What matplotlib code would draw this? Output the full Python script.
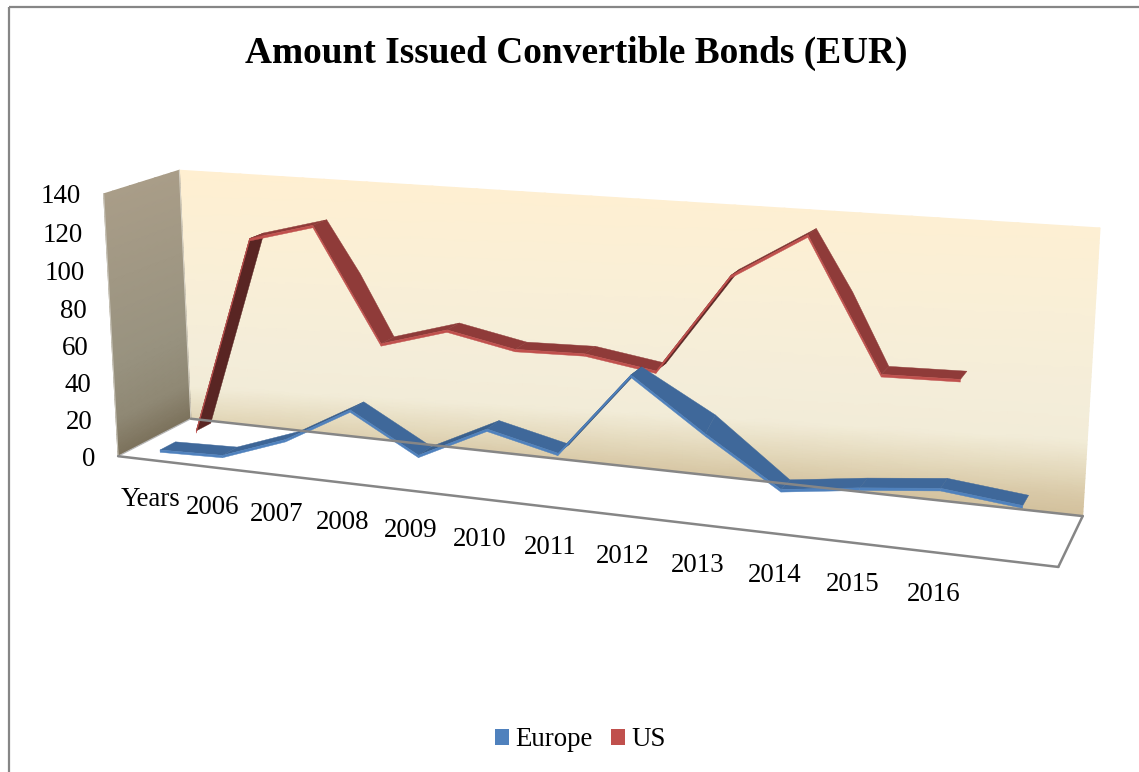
import numpy as np
import matplotlib
matplotlib.use("Agg")
import matplotlib.pyplot as plt
from matplotlib.colors import LinearSegmentedColormap, to_rgb
from matplotlib.patches import Patch, Polygon, Rectangle

plt.rcParams["font.family"] = ["Liberation Serif", "DejaVu Serif"]

TITLE = "Amount Issued Convertible Bonds (EUR)"
categories = ["Years", "2006", "2007", "2008", "2009", "2010", "2011",
              "2012", "2013", "2014", "2015", "2016", ""]
europe = [1.5, 2.5, 15, 34.5, 14.5, 32, 23.5, 66.5, 41, 17.5, 22.5, 26.5, 22.5]
us = [1.5, 110.5, 120, 60, 70.5, 63.5, 64.5, 59, 110, 132.5, 67.5, 68.5]
value_ticks = [0, 20, 40, 60, 80, 100, 120, 140]

W, H = 1139, 772
N = len(categories)
VMAX = value_ticks[-1]

# Box corners as (category, depth, value) and where they sit on the canvas.
box_world = np.array([[0, 0, 0], [N, 0, 0], [0, 1, 0], [N, 1, 0],
                      [0, 1, VMAX], [N, 1, VMAX], [0, 0, VMAX]], float)
box_canvas = np.array([[119, 457], [1058, 567], [190, 418], [1083, 516],
                       [180, 171], [1100, 228], [103, 193]], float)


def fit_camera(world, canvas):
    rows, rhs = [], []
    for (a, b, c), (x, y) in zip(world, canvas):
        rows.append([a, b, c, 1, 0, 0, 0, 0, -x * a, -x * b, -x * c])
        rhs.append(x)
        rows.append([0, 0, 0, 0, a, b, c, 1, -y * a, -y * b, -y * c])
        rhs.append(y)
    coef = np.linalg.lstsq(np.array(rows), np.array(rhs), rcond=None)[0]
    return np.append(coef, 1).reshape(3, 4)


CAM = fit_camera(box_world, box_canvas)


def project(u, v, w):
    u, v, w = np.broadcast_arrays(np.asarray(u, float), np.asarray(v, float), np.asarray(w, float))
    pts = np.stack([u, v, w, np.ones_like(u)], axis=-1) @ CAM.T
    return pts[..., 0] / pts[..., 2], pts[..., 1] / pts[..., 2]


def quad(ax, corners, **kw):
    xy = [tuple(map(float, project(*c))) for c in corners]
    ax.add_patch(Polygon(xy, closed=True, **kw))


def segment(ax, a, b, **kw):
    xs, ys = project([a[0], b[0]], [a[1], b[1]], [a[2], b[2]])
    ax.plot(xs, ys, solid_capstyle="round", **kw)


def shaded(color, rise):
    # Faces that climb steeply turn away from the light.
    k = 1 - 0.38 * np.clip((rise - 10) / 35, 0, 1)
    return tuple(c * k for c in to_rgb(color))


def back_lifts(values):
    # A run of falling segments flares the far edge of the ribbon at its inner joint.
    lifts = [0.0] * len(values)
    for i in range(1, len(values) - 1):
        if values[i - 1] - values[i] > 15 and values[i] - values[i + 1] > 15:
            lifts[i] = 5.0
    return lifts


def ribbon(ax, values, v0, v1, top, front, half=0.65):
    lifts = back_lifts(values)
    for i in range(len(values) - 1):
        ua, ub = i + 0.5, i + 1.5
        a, b = values[i], values[i + 1]
        col = shaded(top, b - a)
        # Long single drops bow out a little halfway along the far edge.
        bow = 0.04 * (a - b) if a - b > 30 and lifts[i] == lifts[i + 1] == 0 else 0.0
        um, m = (ua + ub) / 2, (a + b) / 2
        quad(ax, [(ua, v0, a + half), (ub, v0, b + half), (ub, v1, b + half + lifts[i + 1]),
                  (um, v1, m + half + bow + (lifts[i] + lifts[i + 1]) / 2),
                  (ua, v1, a + half + lifts[i])],
             facecolor=col, edgecolor=col, linewidth=0.3)
        quad(ax, [(ua, v0, a - half), (ub, v0, b - half), (ub, v0, b + half), (ua, v0, a + half)],
             facecolor=front, edgecolor=front, linewidth=0.3)


fig = plt.figure(figsize=(W / 100, H / 100), dpi=100, facecolor="white")
ax = fig.add_axes([0, 0, 1, 1])
ax.set_xlim(0, W)
ax.set_ylim(H, 0)
ax.axis("off")

# Outer chart frame: only its top and left sides fall on the canvas.
ax.add_patch(Rectangle((9, 7), 3000, 3000, fill=False, edgecolor="#868686", linewidth=1.6))

# Back wall gradient, tilted slightly along the category axis.
back_cmap = LinearSegmentedColormap.from_list(
    "back", [(0.0, "#D2C09C"), (0.06, "#D8C8A6"), (0.14, "#E4D9BC"), (0.24, "#F2ECD8"),
             (0.38, "#F4EDD9"), (0.70, "#FAEFD6"), (1.0, "#FFEFD1")])
uu, ww = np.meshgrid(np.linspace(0, N, 40), np.linspace(0, VMAX, 60))
bx, by = project(uu, 1.0, ww)
ax.pcolormesh(bx, by, ww / VMAX - 0.135 * uu / N, shading="gouraud", cmap=back_cmap,
              vmin=-0.14, vmax=1.0)

# Side wall gradient.
side_cmap = LinearSegmentedColormap.from_list(
    "side", [(0.0, "#7C725C"), (0.14, "#8F8874"), (0.35, "#98927F"), (1.0, "#A99D88")])
vv, ww2 = np.meshgrid(np.linspace(0, 1, 10), np.linspace(0, VMAX, 60))
sx, sy = project(0.0, vv, ww2)
ax.pcolormesh(sx, sy, ww2 / VMAX, shading="gouraud", cmap=side_cmap, vmin=0, vmax=1)

# Floor.
quad(ax, [(0, 0, 0), (N, 0, 0), (N, 1, 0), (0, 1, 0)], facecolor="white", edgecolor="none")
segment(ax, (0, 0, 0), (0, 0, VMAX), color="#C9C5BA", linewidth=0.8)
segment(ax, (0, 1, 0), (0, 1, VMAX), color="#D6D1C4", linewidth=0.8)
segment(ax, (0, 0, 0), (0, 1, 0), color="#B5B5B5", linewidth=0.9)
segment(ax, (0, 1, 0), (N, 1, 0), color="#868686", linewidth=1.8)
segment(ax, (N, 1, 0), (N, 0, 0), color="#868686", linewidth=1.8)
segment(ax, (N, 0, 0), (0, 0, 0), color="#868686", linewidth=1.8)

# Series ribbons, back one first.
ribbon(ax, us, 0.65, 0.86, "#8F3B39", "#C0504D")
ribbon(ax, europe, 0.15, 0.36, "#3F689A", "#4F81BD")

# Value axis labels follow the near edge of the side wall.
for tick in value_ticks:
    x, y = project(0.0, 0.0, tick)
    ax.text(float(x) - 23, float(y) + 3, str(tick), ha="right", va="center", fontsize=19.4, color="black")

# Category labels sit below the near edge of the floor.
for i, label in enumerate(categories):
    u = i + 0.5
    x, y = project(u, -0.15, -17)
    ax.text(float(x) + 11 - 4 * u / N, float(y) + 2.5 - 4 * u / N, label, ha="center", va="center",
            fontsize=19.4, color="black")

ax.text(576, 53, TITLE, ha="center", va="center", fontsize=26.9, fontweight="bold", color="black")

handles = [Patch(facecolor="#4F81BD", label="Europe"), Patch(facecolor="#C0504D", label="US")]
ax.legend(handles=handles, loc="center", bbox_to_anchor=(580 / W, 1 - 740 / H),
          bbox_transform=fig.transFigure, ncol=2, frameon=False, fontsize=19.4, borderpad=0,
          handlelength=0.53, handleheight=0.53, handletextpad=0.23, columnspacing=0.68)

fig.savefig("out.png", dpi=100)
